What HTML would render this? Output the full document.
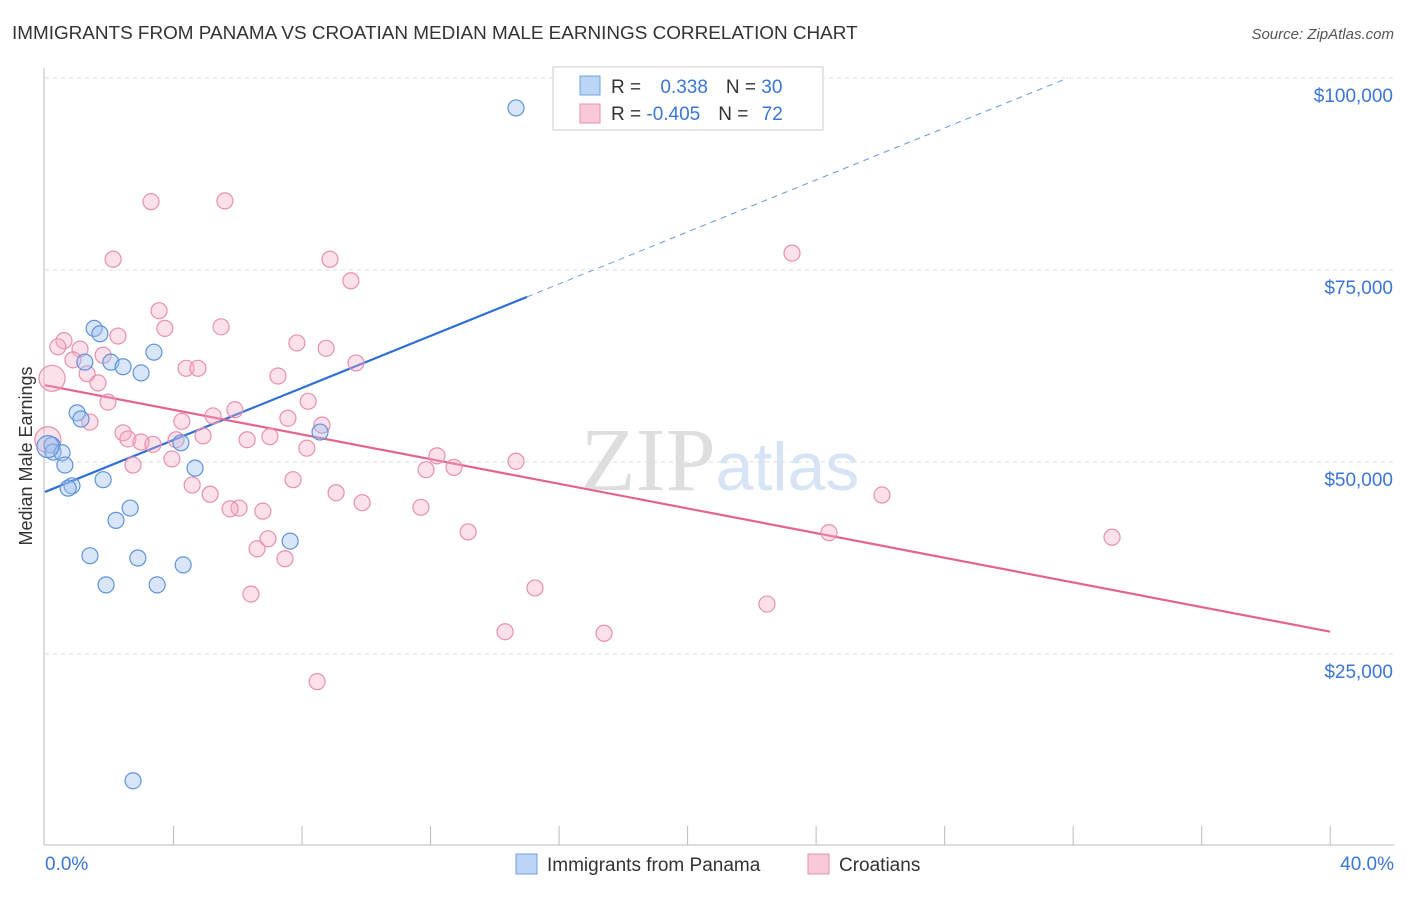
<!DOCTYPE html>
<html><head><meta charset="utf-8"><style>
body{margin:0;background:#fff;font-family:"Liberation Sans",sans-serif;}
svg text{font-family:"Liberation Sans",sans-serif;}
</style></head><body>
<svg id="chart" width="1406" height="892" xmlns="http://www.w3.org/2000/svg">
<text x="12" y="39" font-size="18.9" fill="#333">IMMIGRANTS FROM PANAMA VS CROATIAN MEDIAN MALE EARNINGS CORRELATION CHART</text>
<text x="1394" y="39" font-size="15" fill="#555" text-anchor="end" font-style="italic">Source: ZipAtlas.com</text>
<text x="720" y="490" font-size="90" text-anchor="middle" fill="#e4e4e4"><tspan font-family="Liberation Serif" fill="#dedede">ZIP</tspan><tspan font-size="68" fill="#d6e4f6">atlas</tspan></text>
<text transform="translate(32,456) rotate(-90)" font-size="18" fill="#333" text-anchor="middle">Median Male Earnings</text>
<g id="grid"></g><g id="axes"></g><g id="lines"></g><g id="points"></g>
<g>
<rect x="553" y="67" width="270" height="63" fill="#fff" stroke="#ccc"/>
<rect x="580" y="76" width="20" height="19" fill="#bcd4f6" stroke="#6fa0e0"/>
<rect x="580" y="104" width="20" height="19" fill="#fac8d8" stroke="#e98fb0"/>
<text x="611" y="93" font-size="19" fill="#333">R = <tspan fill="#3a75d8" dx="14">0.338</tspan><tspan dx="18">N = </tspan><tspan fill="#3a75d8">30</tspan></text>
<text x="611" y="120" font-size="19" fill="#333">R = <tspan fill="#3a75d8">-0.405</tspan><tspan dx="18">N = </tspan><tspan fill="#3a75d8" dx="8">72</tspan></text>
</g>
<g>
<rect x="516" y="854" width="21" height="20" fill="#bcd4f6" stroke="#6fa0e0"/>
<text x="547" y="871" font-size="19" fill="#333">Immigrants from Panama</text>
<rect x="808" y="854" width="21" height="20" fill="#fac8d8" stroke="#e98fb0"/>
<text x="839" y="871" font-size="19" fill="#333">Croatians</text>
</g>
</svg>
<script>
const yTicks=[25000,50000,75000,100000];
const yTickLabels=["$25,000","$50,000","$75,000","$100,000"];
const xTickLabels=["0.0%","40.0%"];
const panamaX=[14.66,1.53,1.71,3.39,1.24,2.05,2.43,2.99,1.0,1.12,8.56,4.23,0.22,0.25,0.53,0.62,4.67,1.81,0.84,0.72,2.65,2.21,1.40,2.89,7.63,4.30,1.90,3.49,2.74,0.09];
const panamaY=[96.1,67.4,66.7,64.3,63.0,63.0,62.4,61.6,56.4,55.6,53.9,52.5,52.2,51.3,51.2,49.6,49.2,47.7,46.9,46.6,44.0,42.4,37.8,37.5,39.7,36.6,34.0,34.0,8.5,52.0];
const croatX=[3.30,5.60,2.12,8.87,23.25,9.52,3.55,3.73,5.48,2.27,0.59,0.40,7.84,8.75,1.09,1.81,0.87,9.68,4.39,4.76,1.31,7.25,1.65,0.22,1.96,8.19,5.91,5.23,4.26,1.40,7.56,8.62,2.43,4.92,2.58,7.0,6.29,2.99,3.36,4.08,8.15,12.2,3.95,14.66,12.73,11.86,2.74,7.72,4.58,5.14,9.06,26.05,9.87,11.70,6.04,5.76,6.78,13.17,24.40,33.21,6.94,6.60,7.47,15.25,6.41,22.47,14.32,17.40,8.47,0.09];
const croatY=[83.9,84.0,76.4,76.4,77.2,73.6,69.7,67.4,67.6,66.4,65.8,65.0,65.5,64.8,64.7,63.9,63.3,62.9,62.2,62.2,61.5,61.2,60.3,60.9,57.8,57.9,56.8,56.0,55.3,55.2,55.7,54.8,53.8,53.4,53.0,53.3,52.9,52.6,52.3,52.9,51.8,50.8,50.4,50.1,49.3,49.0,49.6,47.7,47.0,45.8,46.0,45.7,44.7,44.1,44.0,43.9,43.6,40.9,40.8,40.2,40.0,38.7,37.4,33.6,32.8,31.5,27.9,27.7,21.4,52.9];
const panamaTrend=[46.1,1.693];
const croatTrend=[60.0,-0.8025];
const NS="http://www.w3.org/2000/svg";
const X=p=>45+p*32.13;
const Y=k=>654-(k-25)*7.68;
function mk(tag,attrs,parent){const e=document.createElementNS(NS,tag);for(const k in attrs)e.setAttribute(k,attrs[k]);document.getElementById(parent).appendChild(e);return e;}
yTicks.forEach((v,i)=>{
 const y=Y(v/1000);
 const g=mk('line',{x1:45,x2:1394,y1:y,y2:y,stroke:'#ddd','stroke-dasharray':'4,4'},'grid');
 
 
 const t=mk('text',{x:1393,y:y+24,'font-size':19,fill:'#3a75d8','text-anchor':'end'},'axes');
 t.textContent=yTickLabels[i];
 
 
});
const ax=mk('line',{x1:44,x2:44,y1:68,y2:845,stroke:'#bbb'},'axes');


const bx=mk('line',{x1:44,x2:1394,y1:845,y2:845,stroke:'#bbb'},'axes');


for(let i=1;i<=10;i++){
 const tk=mk('line',{x1:X(i*4),x2:X(i*4),y1:826,y2:845,stroke:'#bbb'},'axes');
 
 
}
[[0,'start',45],[40,'end',1394]].forEach((d,i)=>{
 const t=mk('text',{x:d[2],y:870,'font-size':19,fill:'#3a75d8','text-anchor':d[1]},'axes');
 t.textContent=xTickLabels[i];
 
 
});
const pEnd=Math.min(40,(100-panamaTrend[0])/panamaTrend[1]);
const l1=mk('line',{x1:X(0),y1:Y(panamaTrend[0]),x2:X(15),y2:Y(panamaTrend[0]+panamaTrend[1]*15),stroke:'#2f6fd6','stroke-width':2.2},'lines');


const l2=mk('line',{x1:X(15),y1:Y(panamaTrend[0]+panamaTrend[1]*15),x2:X(pEnd),y2:Y(panamaTrend[0]+panamaTrend[1]*pEnd),stroke:'#6a9be0','stroke-width':1,'stroke-dasharray':'6,5'},'lines');


const l3=mk('line',{x1:X(0),y1:Y(croatTrend[0]),x2:X(40),y2:Y(croatTrend[0]+croatTrend[1]*40),stroke:'#e5648f','stroke-width':2.2},'lines');


croatX.forEach((x,i)=>{
 const c=mk('circle',{cx:X(x),cy:Y(croatY[i]),r:(x<0.3?13:8),fill:'rgba(246,170,196,0.35)',stroke:'#e98fb0','stroke-width':1.2},'points');
 
 
});
panamaX.forEach((x,i)=>{
 const c=mk('circle',{cx:X(x),cy:Y(panamaY[i]),r:(x<0.15?11:8),fill:'rgba(160,192,240,0.4)',stroke:'#5f93dc','stroke-width':1.2},'points');
 
 
});
</script>
</body></html>
